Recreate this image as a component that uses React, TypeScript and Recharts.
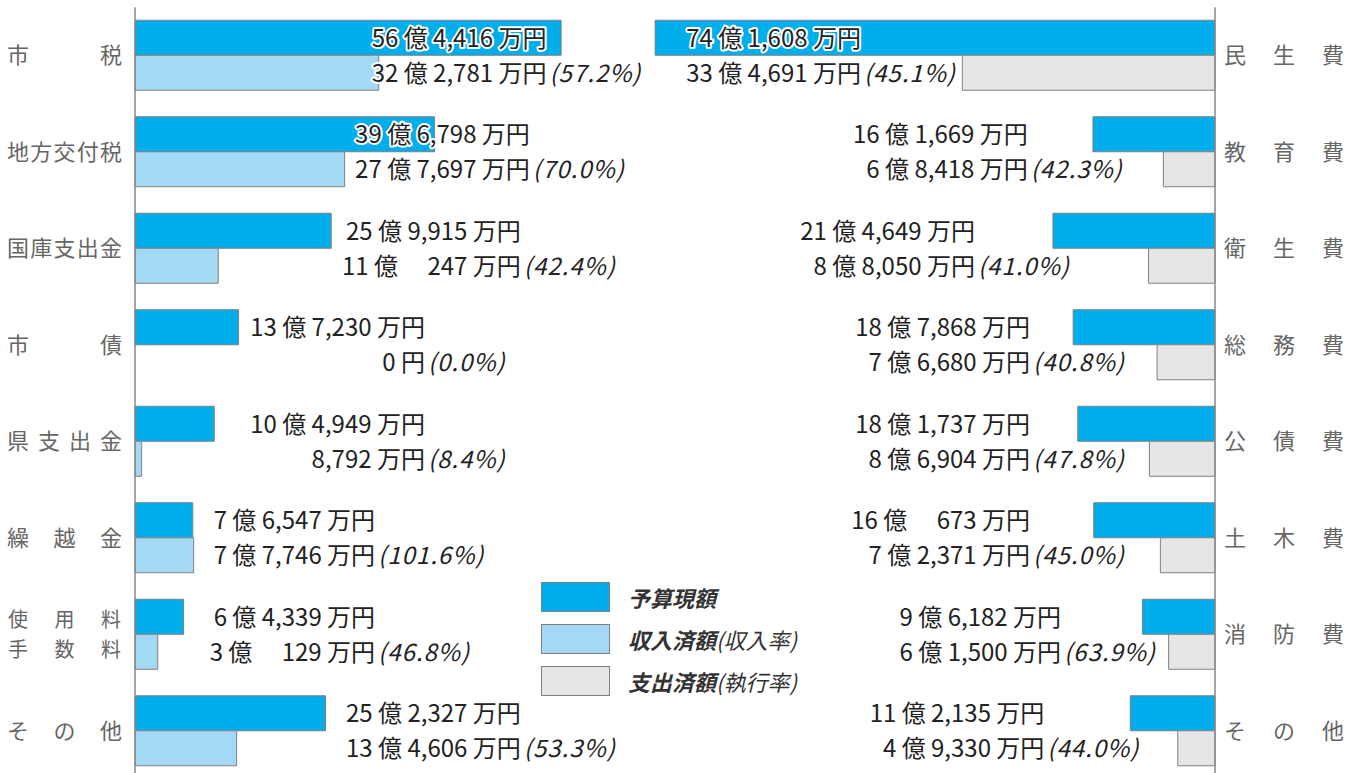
import React from "react";
import { BarChart, Bar, XAxis, YAxis, ReferenceDot, Legend } from "recharts";

// 歳入（単位：万円）
const revenueNames = ["市税", "地方交付税", "国庫支出金", "市債", "県支出金", "繰越金", "使用料\n手数料", "その他"];
const revenueBudget = [564416, 396798, 259915, 137230, 104949, 76547, 64339, 252327];
const revenueReceived = [322781, 277697, 110247, 0, 8792, 77746, 30129, 134606];

// 歳出（単位：万円）
const expenseNames = ["民生費", "教育費", "衛生費", "総務費", "公債費", "土木費", "消防費", "その他"];
const expenseBudget = [741608, 161669, 214649, 187868, 181737, 160673, 96182, 112135];
const expenseSpent = [334691, 68418, 88050, 76680, 86904, 72371, 61500, 49330];

// where the amount text of each row ends (the 円 column), measured along each side's axis in 万円
const revenueLabelAt = [545000, 523000, 511000, 384000, 384000, 318000, 318000, 511000];
const expenseLabelAt = [469000, 248000, 318000, 245000, 245000, 245000, 204000, 226000];

const legendItems = [
  { label: "予算現額", note: "", key: "budget" },
  { label: "収入済額", note: "(収入率)", key: "received" },
  { label: "支出済額", note: "(執行率)", key: "spent" },
];

const AXIS_MAX = 1430500;
const BAR = 35;

const COLORS: Record<string, string> = {
  budget: "#00aeeb",
  received: "#a3d9f5",
  spent: "#e6e6e6",
};
const EDGE = "#808080";
const FONT = "'Noto Sans CJK JP', 'Noto Sans', sans-serif";

const rows = revenueNames.map((name, i) => ({
  inName: name,
  inBudget: revenueBudget[i],
  inReceived: revenueReceived[i],
  outName: expenseNames[i],
  outBudget: expenseBudget[i],
  outSpent: expenseSpent[i],
}));

function yen(v: number): string {
  if (v === 0) return "0 円";
  const oku = Math.floor(v / 10000);
  const man = v % 10000;
  if (oku === 0) return `${man.toLocaleString("en-US")} 万円`;
  const manText = man < 1000 ? `\u3000${man}` : man.toLocaleString("en-US");
  return `${oku} 億 ${manText} 万円`;
}

function rate(part: number, whole: number): string {
  return `(${((part / whole) * 100).toFixed(1)}%)`;
}

const textStyle = {
  fontFamily: FONT,
  fontSize: 24,
  fill: "#222",
  stroke: "#fff",
  strokeWidth: 4,
  strokeLinejoin: "round" as const,
  paintOrder: "stroke" as const,
};

function AmountLabel(props: any) {
  const { viewBox, budget, actual } = props;
  if (!viewBox) return null;
  const x = viewBox.x + (viewBox.width || 0) / 2;
  const cy = viewBox.y + (viewBox.height || 0) / 2;
  const top = cy - BAR / 2 + 8.8;
  const bottom = cy + BAR / 2 + 8.8;
  return (
    <g>
      <text x={x} y={top} textAnchor="end" style={textStyle}>
        {yen(budget)}
      </text>
      <text x={x} y={bottom} textAnchor="end" style={textStyle}>
        {yen(actual)}
      </text>
      <text x={x + 3} y={bottom} textAnchor="start" style={{ ...textStyle, fontStyle: "italic", letterSpacing: 1 }}>
        {rate(actual, budget)}
      </text>
    </g>
  );
}

// category names are spread across a fixed width; two-line names share one text per column
function CategoryTick(props: any) {
  const { x, y, payload, side } = props;
  const lines = String(payload.value).split("\n");
  const fs = lines.length > 1 ? 20 : 22;
  const step = 30;
  const left = side === "L" ? x - 128 : x + 9;
  const span = side === "L" ? 115 : 120;
  const cols = Math.max(...lines.map((l) => Array.from(l).length));
  const firstY = y - ((lines.length - 1) / 2) * step + fs * 0.36;
  return (
    <g>
      {Array.from({ length: cols }).map((_, ci) => {
        const cx = cols === 1 ? left + span / 2 : left + 11 + (ci * (span - 22)) / (cols - 1);
        return (
          <text key={ci} x={cx} y={firstY} textAnchor="middle" fontFamily={FONT} fontSize={fs} fill="#666">
            {lines.map((line, li) => (
              <tspan key={li} x={cx} dy={li === 0 ? 0 : step}>
                {Array.from(line)[ci] || ""}
              </tspan>
            ))}
          </text>
        );
      })}
    </g>
  );
}

function LegendBox() {
  return (
    <div style={{ fontFamily: FONT, color: "#333" }}>
      {legendItems.map((item) => (
        <div key={item.key} style={{ display: "flex", alignItems: "center", height: 30, marginBottom: 12 }}>
          <div
            style={{
              width: 67,
              height: 28,
              background: COLORS[item.key],
              border: `1px solid ${EDGE}`,
              marginRight: 18,
            }}
          />
          <span style={{ fontSize: 22, fontStyle: "italic", fontWeight: 700 }}>{item.label}</span>
          <span style={{ fontSize: 22, fontStyle: "italic" }}>{item.note}</span>
        </div>
      ))}
    </div>
  );
}

export default function App() {
  return (
    <div style={{ position: "absolute", left: 0, top: 0, width: 1360, height: 773, overflow: "hidden", background: "#fff" }}>
      <BarChart
        width={1360}
        height={786}
        data={rows}
        layout="vertical"
        barGap={0}
        margin={{ top: 7.25, right: 0, bottom: 6.75, left: 0 }}
      >
        <XAxis xAxisId="L" type="number" domain={[0, AXIS_MAX]} hide />
        <XAxis xAxisId="R" type="number" domain={[0, AXIS_MAX]} reversed hide />
        <YAxis
          yAxisId="L"
          type="category"
          dataKey="inName"
          width={135}
          tickLine={false}
          tickSize={0}
          tickMargin={0}
          axisLine={{ stroke: "#888", strokeWidth: 1.5 }}
          tick={<CategoryTick side="L" />}
          interval={0}
        />
        <YAxis
          yAxisId="R"
          type="category"
          dataKey="outName"
          orientation="right"
          width={145}
          tickLine={false}
          tickSize={0}
          tickMargin={0}
          axisLine={{ stroke: "#888", strokeWidth: 1.5 }}
          tick={<CategoryTick side="R" />}
          interval={0}
        />
        <Bar xAxisId="L" yAxisId="L" dataKey="inBudget" name="予算現額" barSize={BAR} fill={COLORS.budget} stroke={EDGE} strokeWidth={1} isAnimationActive={false} />
        <Bar xAxisId="L" yAxisId="L" dataKey="inReceived" name="収入済額" barSize={BAR} fill={COLORS.received} stroke={EDGE} strokeWidth={1} isAnimationActive={false} />
        <Bar xAxisId="R" yAxisId="R" dataKey="outBudget" name="予算現額" barSize={BAR} fill={COLORS.budget} stroke={EDGE} strokeWidth={1} isAnimationActive={false} />
        <Bar xAxisId="R" yAxisId="R" dataKey="outSpent" name="支出済額" barSize={BAR} fill={COLORS.spent} stroke={EDGE} strokeWidth={1} isAnimationActive={false} />
        {rows.map((r, i) => (
          <ReferenceDot
            key={`in-${i}`}
            xAxisId="L"
            yAxisId="L"
            x={revenueLabelAt[i]}
            y={r.inName}
            r={0}
            fill="none"
            stroke="none"
            label={<AmountLabel budget={r.inBudget} actual={r.inReceived} />}
          />
        ))}
        {rows.map((r, i) => (
          <ReferenceDot
            key={`out-${i}`}
            xAxisId="R"
            yAxisId="R"
            x={expenseLabelAt[i]}
            y={r.outName}
            r={0}
            fill="none"
            stroke="none"
            label={<AmountLabel budget={r.outBudget} actual={r.outSpent} />}
          />
        ))}
        <Legend
          layout="vertical"
          align="center"
          verticalAlign="middle"
          content={<LegendBox />}
          wrapperStyle={{ left: 541, top: 582, width: 320, height: 130 }}
        />
      </BarChart>
    </div>
  );
}
